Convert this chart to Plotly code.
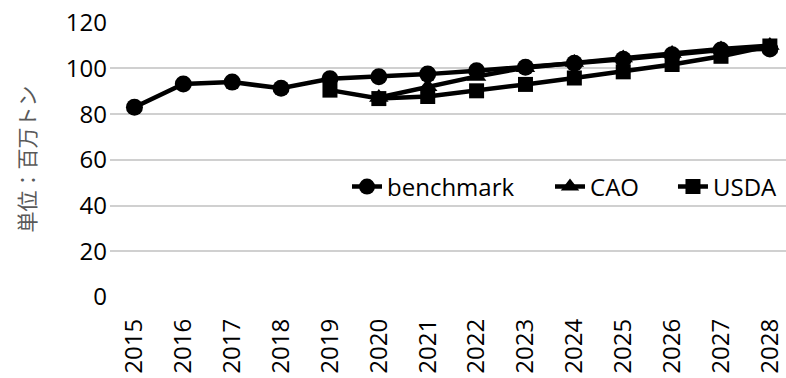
import plotly.graph_objects as go

years = [str(y) for y in range(2015, 2029)]
benchmark = [83, 93.2, 94, 91.3, 95.5, 96.3, 97.5, 99, 100.5, 102.3, 104, 106, 108, 108.5]
cao_years = [str(y) for y in range(2020, 2029)]
cao = [87.3, 92, 96.5, 100.3, 102.6, 104.5, 106.5, 108.5, 110]
usda_years = [str(y) for y in range(2019, 2029)]
usda = [90.5, 86.8, 87.7, 90.2, 93, 95.8, 98.5, 101.7, 105.3, 109.8]
y_ticks = [0, 20, 40, 60, 80, 100, 120]

fig = go.Figure()
common = dict(mode="lines+markers", line=dict(color="black", width=4.5))
fig.add_trace(go.Scatter(x=years, y=benchmark, name="benchmark", legend="legend",
                         marker=dict(symbol="circle", size=17, color="black"), **common))
fig.add_trace(go.Scatter(x=cao_years, y=cao, name="CAO", legend="legend2",
                         marker=dict(symbol="triangle-up", size=17, color="black"), **common))
fig.add_trace(go.Scatter(x=usda_years, y=usda, name="USDA", legend="legend3",
                         marker=dict(symbol="square", size=15, color="black"), **common))

leg = dict(orientation="h", y=0.4, xanchor="left", yanchor="middle",
           bgcolor="rgba(0,0,0,0)", font=dict(size=24))

fig.update_layout(
    width=786, height=378,
    margin=dict(l=110, r=0, t=22, b=81),
    plot_bgcolor="white", paper_bgcolor="white",
    font=dict(family="Open Sans", size=24, color="black"),
    showlegend=True,
    legend=dict(x=0.3506, **leg),
    legend2=dict(x=0.6509, **leg),
    legend3=dict(x=0.8328, **leg),
    xaxis=dict(type="category", categoryorder="array", categoryarray=years,
               range=[-0.5, 13.33], tickangle=-90, showgrid=False, zeroline=False,
               showline=False, ticks="", ticklabelstandoff=16, automargin=False,
               ticklabeloverflow="allow", tickfont=dict(size=24)),
    yaxis=dict(range=[0, 120.3], tickvals=y_ticks, showgrid=True, gridcolor="#d0d0d0",
               gridwidth=1.5, zeroline=False, showline=False, ticks="",
               ticklabelstandoff=2, automargin=False, ticklabeloverflow="allow",
               tickfont=dict(size=24)),
    annotations=[dict(text="単位：百万トン", xref="paper", yref="paper",
                      x=(25 - 110) / 676, y=0.5, xanchor="center", yanchor="middle",
                      textangle=-90, showarrow=False,
                      font=dict(family="Noto Sans CJK JP", size=21, color="#595959"))],
)
fig.write_html("out.html", config={"displayModeBar": False},
               post_script="document.body.style.margin='0';")
